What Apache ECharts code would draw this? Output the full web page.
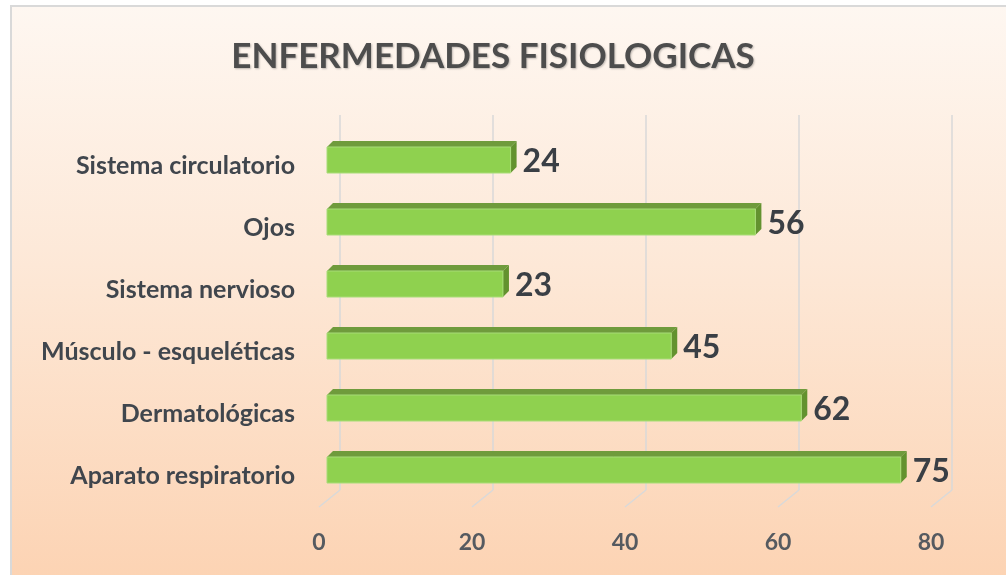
<!DOCTYPE html>
<html>
<head>
<meta charset="utf-8">
<script src="https://cdn.jsdelivr.net/npm/echarts@6/dist/echarts.min.js"></script>
<style>
html,body{margin:0;padding:0;background:#ffffff;}
#frame{position:absolute;left:10px;top:5px;width:1000px;height:575px;border-left:2px solid #d9d9d9;border-top:2px solid #d9d9d9;
background:linear-gradient(to bottom,#fef7f1 0%,#fde8d7 45%,#fcd3b3 100%);}
#chart{position:absolute;left:0;top:0;width:1006px;height:575px;}
</style>
</head>
<body>
<div id="frame"></div>
<div id="chart"></div>
<script>
const categories = ['Sistema circulatorio','Ojos','Sistema nervioso','Músculo - esqueléticas','Dermatológicas','Aparato respiratorio'];
const values = [24, 56, 23, 45, 62, 75];
const xTicks = [0, 20, 40, 60, 80];
const titleText = 'ENFERMEDADES FISIOLOGICAS';

const FONT = 'Lato';
const chart = echarts.init(document.getElementById('chart'), null, {renderer:'canvas'});

const DX = 6, DY = -6, H = 26;

const option = {
  backgroundColor: 'transparent',
  animation: false,
  title: {
    text: titleText, left: 488, top: 34, textAlign: 'center',
    textStyle: {fontFamily: FONT, fontWeight: 'bold', fontSize: 35, color: '#4d4d4d',
      textShadowColor: 'rgba(0,0,0,0.25)', textShadowBlur: 2, textShadowOffsetX: 1, textShadowOffsetY: 1}
  },
  grid: [
    {left: 327, width: 612, top: 129, height: 372},   // bars
    {left: 340, width: 612, top: 115, height: 375},   // back gridlines
    {left: 319, width: 612, top: 400, height: 107},   // front labels
    {left: 327, width: 612, top: 135, height: 372}    // category labels
  ],
  xAxis: [
    {gridIndex: 0, type: 'value', min: 0, max: 80, interval: 20, show: false},
    {gridIndex: 1, type: 'value', min: 0, max: 80, interval: 20,
      axisLine: {show: false}, axisTick: {show: false}, axisLabel: {show: false},
      splitLine: {show: true, lineStyle: {color: '#d9d9d9', width: 1.5}}},
    {gridIndex: 2, type: 'value', min: 0, max: 80, interval: 20,
      axisLine: {show: false}, axisTick: {show: false}, splitLine: {show: false},
      axisLabel: {margin: 24, fontFamily: FONT, fontWeight: 'bold', fontSize: 23, color: '#555a60',
        formatter: v => xTicks.includes(v) ? String(v) : ''}},
    {gridIndex: 3, type: 'value', min: 0, max: 80, interval: 20, show: false}
  ],
  yAxis: [
    {gridIndex: 0, type: 'category', data: categories, inverse: true, show: false},
    {gridIndex: 1, type: 'value', min: 0, max: 1, show: false},
    {gridIndex: 2, type: 'value', min: 0, max: 1, show: false},
    {gridIndex: 3, type: 'category', data: categories, inverse: true,
      axisLine: {show: false}, axisTick: {show: false}, splitLine: {show: false},
      axisLabel: {margin: 32, fontFamily: FONT, fontWeight: 'bold', fontSize: 25, color: '#40464d'}}
  ],
  series: [
    {
      type: 'custom', xAxisIndex: 1, yAxisIndex: 1,
      data: xTicks.map(v => [v]),
      renderItem: function (params, api) {
        const p = api.coord([api.value(0), 0]);
        return {type: 'line', shape: {x1: p[0], y1: p[1], x2: p[0] - 21, y2: p[1] + 17},
          style: {stroke: '#d9d9d9', lineWidth: 1.5}};
      }
    },
    {
      type: 'custom', xAxisIndex: 0, yAxisIndex: 0,
      data: values.map((v, i) => [v, i]),
      renderItem: function (params, api) {
        const start = api.coord([0, api.value(1)]);
        const end = api.coord([api.value(0), api.value(1)]);
        const x0 = start[0], x1 = end[0], cy = end[1];
        const yt = cy - H / 2, yb = cy + H / 2;
        return {
          type: 'group',
          children: [
            {type: 'polygon', shape: {points: [[x0, yt], [x0 + DX, yt + DY], [x1 + DX, yt + DY], [x1, yt]]},
              style: {fill: '#6f9b3c'}},
            {type: 'polygon', shape: {points: [[x1, yt], [x1 + DX, yt + DY], [x1 + DX, yb + DY], [x1, yb]]},
              style: {fill: '#63922f'}},
            {type: 'rect', shape: {x: x0, y: yt, width: x1 - x0, height: H},
              style: {fill: '#8fd14f', stroke: '#a8dc78', lineWidth: 1}},
            {type: 'text', x: x1 + 12, y: cy + 2,
              style: {text: String(api.value(0)), fontFamily: FONT, fontWeight: 'bold', fontSize: 32,
                fill: '#3a3f45', verticalAlign: 'middle', align: 'left'}}
          ]
        };
      }
    }
  ]
};
chart.setOption(option);
</script>
</body>
</html>
